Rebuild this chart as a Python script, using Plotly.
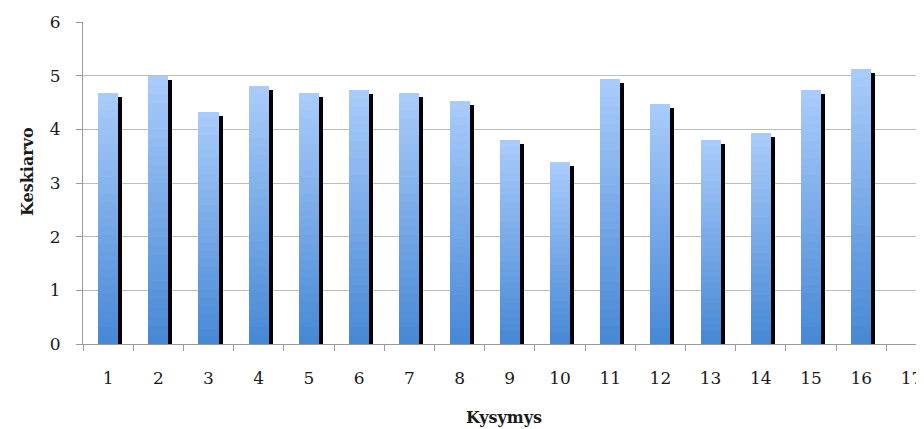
import plotly.graph_objects as go

categories = [str(i) for i in range(1, 18)]
values = [4.67, 5.00, 4.33, 4.80, 4.67, 4.73, 4.67, 4.53, 3.80, 3.40,
          4.93, 4.47, 3.80, 3.93, 4.73, 5.13, None]

x_title = "Kysymys"
y_title = "Keskiarvo"

FONT = "DejaVu Serif"
TXT = "#1a1a1a"
top_rgb = (168, 203, 250)
bottom_rgb = (72, 137, 213)
N = 30
BAR_W = 0.4
SHADOW_SHIFT = 0.08
SHADOW_DROP = 0.075

# page body has an 8px margin; layout is compensated for it
FIG_W, FIG_H = 916, 421
ML, MR, MT, MB = 75, 0, 14, 85
PW = FIG_W - ML - MR
PH = FIG_H - MT - MB

fig = go.Figure()

# shadow (black) behind each bar
fig.add_trace(go.Bar(
    x=categories,
    y=[(v - SHADOW_DROP) if v is not None else None for v in values],
    width=BAR_W, offset=-BAR_W / 2 + SHADOW_SHIFT,
    marker=dict(color="#000000", line=dict(width=0)),
    hoverinfo="skip", showlegend=False,
))

# vertical gradient: layered bars, tallest/lightest first
for k in range(N):
    t = k / (N - 1)
    c = tuple(round(top_rgb[i] + (bottom_rgb[i] - top_rgb[i]) * t) for i in range(3))
    frac = (N - k) / N
    fig.add_trace(go.Bar(
        x=categories,
        y=[(v * frac) if v is not None else None for v in values],
        width=BAR_W, offset=-BAR_W / 2,
        marker=dict(color="rgb(%d,%d,%d)" % c, line=dict(width=0)),
        hoverinfo="skip", showlegend=False,
    ))

fig.update_layout(
    width=FIG_W, height=FIG_H,
    margin=dict(l=ML, r=MR, t=MT, b=MB, autoexpand=False),
    paper_bgcolor="white", plot_bgcolor="white",
    barmode="overlay", bargap=0,
    font=dict(family=FONT, size=17, color=TXT),
    showlegend=False,
    annotations=[
        dict(text="<b>%s</b>" % y_title, xref="paper", yref="paper",
             x=(19 - ML) / PW, y=(MT + PH - 164) / PH, textangle=-90,
             showarrow=False, xanchor="center", yanchor="middle",
             font=dict(family=FONT, size=16, color=TXT)),
        dict(text="<b>%s</b>" % x_title, xref="paper", yref="paper",
             x=0.5, y=-(409 - (MT + PH)) / PH,
             showarrow=False, xanchor="center", yanchor="middle",
             font=dict(family=FONT, size=16, color=TXT)),
    ],
)

fig.update_xaxes(
    type="category",
    range=[-0.5, 16.25],
    automargin=False,
    tickson="boundaries",
    ticks="outside", ticklen=6, tickcolor="#9a9a9a",
    showline=True, linecolor="#9a9a9a", linewidth=1,
    showgrid=False,
    ticklabelstandoff=19,
    tickfont=dict(family=FONT, size=17, color=TXT),
)

fig.update_yaxes(
    range=[0, 6], dtick=1,
    automargin=False,
    ticks="outside", ticklen=6, tickcolor="#9a9a9a",
    showline=True, linecolor="#9a9a9a", linewidth=1,
    showgrid=True, gridcolor="#bdbdbd", gridwidth=1,
    zeroline=False,
    ticklabelstandoff=12,
    tickfont=dict(family=FONT, size=17, color=TXT),
)

fig.write_html("out.html")
